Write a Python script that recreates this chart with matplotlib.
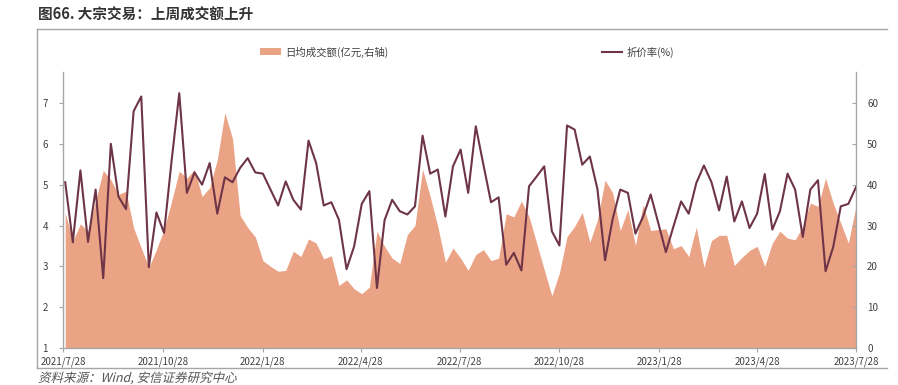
import matplotlib
matplotlib.use('Agg')
import matplotlib.pyplot as plt
import pandas as pd
from matplotlib.font_manager import FontProperties
from matplotlib.lines import Line2D
from matplotlib.patches import Patch, PathPatch
from matplotlib.textpath import TextPath
from matplotlib.transforms import Affine2D

plt.rcParams['font.family'] = ['Noto Sans CJK SC', 'DejaVu Sans']

# weekly observations (Fridays)
week_start = '2021-07-30'
week_end = '2023-07-28'

# 折价率(%), left axis
discount = [
    5.06, 3.59, 5.35, 3.60, 4.88, 2.71, 6.00, 4.71, 4.40, 6.80, 7.16, 2.98, 4.32, 3.82, 5.60,
    7.24, 4.80, 5.30, 5.00, 5.53, 4.29, 5.18, 5.06, 5.41, 5.65, 5.30, 5.27, 4.88, 4.49, 5.08,
    4.63, 4.39, 6.08, 5.53, 4.49, 4.57, 4.14, 2.93, 3.49, 4.53, 4.84, 2.47, 4.13, 4.63, 4.35,
    4.27, 4.47, 6.20, 5.27, 5.37, 4.22, 5.45, 5.86, 4.80, 6.43, 5.49, 4.57, 4.69, 3.04, 3.33,
    2.90, 4.96, 5.20, 5.45, 3.86, 3.51, 6.45, 6.35, 5.49, 5.69, 4.89, 3.15, 4.16, 4.88, 4.80,
    3.80, 4.22, 4.76, 4.06, 3.35, 3.98, 4.59, 4.29, 5.04, 5.47, 5.06, 4.37, 5.20, 4.10, 4.59,
    3.94, 4.29, 5.26, 3.90, 4.35, 5.27, 4.88, 3.72, 4.88, 5.11, 2.88, 3.47, 4.47, 4.53, 4.94,
]

# 日均成交额(亿元), right axis
turnover = [
    33.1, 26.2, 30.4, 28.6, 36.0, 43.5, 41.2, 37.6, 38.4, 29.4, 24.5, 19.8, 24.1, 29.0, 36.0,
    43.3, 41.6, 43.7, 37.1, 39.3, 46.1, 57.6, 51.3, 32.5, 29.5, 27.2, 21.4, 20.0, 18.8, 19.0,
    23.7, 22.4, 26.7, 25.7, 21.8, 22.6, 15.3, 16.7, 14.5, 13.3, 14.9, 28.6, 24.9, 22.0, 20.7,
    27.8, 30.0, 43.8, 37.1, 29.8, 21.0, 24.5, 22.0, 19.0, 22.9, 24.1, 21.4, 22.0, 32.9, 32.1,
    36.0, 32.2, 25.7, 19.2, 12.8, 18.4, 27.3, 29.8, 33.2, 25.9, 31.4, 41.1, 38.0, 28.8, 33.9,
    25.1, 35.1, 28.8, 29.0, 29.2, 24.3, 25.1, 22.4, 29.6, 19.8, 26.3, 27.6, 27.6, 20.2, 22.2,
    23.9, 24.9, 20.0, 25.7, 28.6, 26.9, 26.5, 29.8, 35.5, 34.7, 41.6, 35.5, 30.6, 25.7, 34.7,
]

tick_labels = ['2021/7/28', '2021/10/28', '2022/1/28', '2022/4/28', '2022/7/28',
               '2022/10/28', '2023/1/28', '2023/4/28', '2023/7/28']
left_ticks = [1, 2, 3, 4, 5, 6, 7]
right_ticks = [0, 10, 20, 30, 40, 50, 60]

title = '图66. 大宗交易：上周成交额上升'
source = '资料来源：Wind, 安信证券研究中心'

AREA_COLOR = '#EBA386'
LINE_COLOR = '#6E3447'
SPINE_COLOR = '#A6A6A6'
TEXT_COLOR = '#404040'

dates = pd.date_range(week_start, week_end, freq='7D')
tick_dates = pd.to_datetime(tick_labels, format='%Y/%m/%d')

fig = plt.figure(figsize=(8.98, 3.85), dpi=100)
ax = fig.add_axes([0.0702, 0.0961, 0.8830, 0.7169])
ax2 = ax.twinx()

ax2.fill_between(dates, turnover, 0, color=AREA_COLOR, linewidth=0)
ax.plot(dates, discount, color=LINE_COLOR, lw=1.5)

# line above area
ax.set_zorder(ax2.get_zorder() + 1)
ax.patch.set_visible(False)

ax.set_xlim(tick_dates[0], tick_dates[-1])
ax.set_ylim(1, 7.76)
ax2.set_ylim(0, 67.6)

ax.set_xticks(tick_dates)
ax.set_xticklabels(tick_labels)
ax.set_yticks(left_ticks)
ax2.set_yticks(right_ticks)

for a in (ax, ax2):
    for s in a.spines.values():
        s.set_visible(False)
ax.spines['left'].set_visible(True)
ax.spines['bottom'].set_visible(True)
ax2.spines['right'].set_visible(True)
for s in (ax.spines['left'], ax.spines['bottom'], ax2.spines['right']):
    s.set_color(SPINE_COLOR)
    s.set_linewidth(1.0)

ax.tick_params(axis='y', direction='out', length=3, color=SPINE_COLOR,
               labelsize=7, labelcolor=TEXT_COLOR, pad=8)
ax.tick_params(axis='x', direction='out', length=3, color=SPINE_COLOR,
               labelsize=7, labelcolor=TEXT_COLOR, pad=3)
ax2.tick_params(axis='y', direction='in', length=3, color=SPINE_COLOR,
                labelsize=7, labelcolor=TEXT_COLOR, pad=8)

handles = [Patch(facecolor=AREA_COLOR, edgecolor='none'),
           Line2D([], [], color=LINE_COLOR, lw=1.5)]
fig.legend(handles, ['日均成交额(亿元,右轴)', '折价率(%)'], ncol=2, frameon=False,
           loc='center', bbox_to_anchor=(0.520, 0.865), fontsize=7.5,
           columnspacing=20.5, handlelength=2.0, handleheight=0.6, handletextpad=0.4,
           labelcolor=TEXT_COLOR)

# outer frame
fig.add_artist(Line2D([0.0412, 0.9878], [0.9247, 0.9247], color=SPINE_COLOR, lw=1.0))
fig.add_artist(Line2D([0.0412, 0.0412], [0.0442, 0.9247], color=SPINE_COLOR, lw=1.0))
fig.add_artist(Line2D([0.0412, 0.9878], [0.0442, 0.0442], color=SPINE_COLOR, lw=1.0))

fig.text(0.0423, 0.963, title, fontsize=10.5, fontweight='bold', color='#333333',
         ha='left', va='center')

# source note in slanted type (the CJK font has no italic, so skew the glyph outlines)
src_path = TextPath((0, 0), source, size=12.5,
                    prop=FontProperties(family=['Noto Sans CJK SC', 'DejaVu Sans'], weight='light'))
src_tf = Affine2D().skew_deg(14, 0).translate(38, 385 - 382)
fig.add_artist(PathPatch(src_path, transform=src_tf, facecolor='#555555',
                         edgecolor='none'))

fig.savefig('out.png', dpi=100)
